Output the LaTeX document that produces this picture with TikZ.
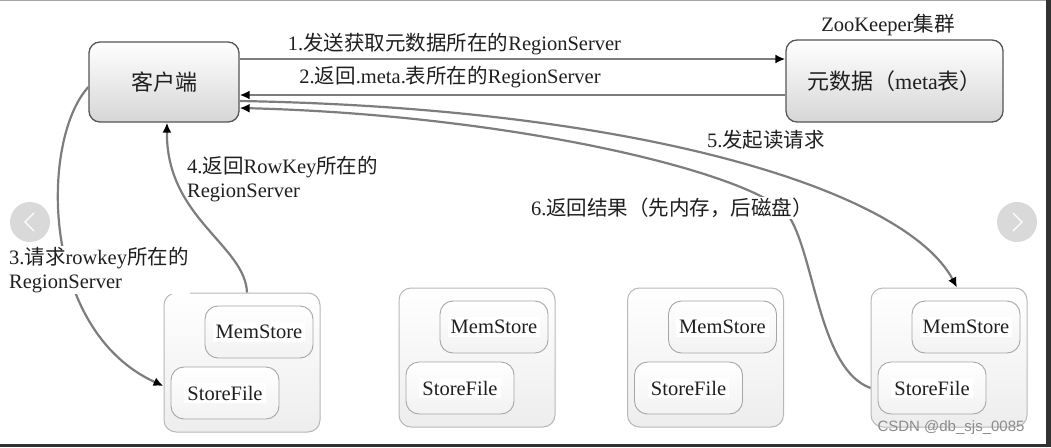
\documentclass[tikz,border=0pt]{standalone}
\usepackage{fontspec}
\setmainfont{Liberation Serif}
\newfontfamily\cjk{Noto Sans CJK SC}
\newfontfamily\wmfont{Liberation Sans}
\usetikzlibrary{arrows.meta}
\definecolor{linegray}{RGB}{125,125,125}
\definecolor{boxedge}{RGB}{85,85,85}
\definecolor{framegray}{RGB}{50,50,50}
\newcommand{\zh}[1]{{\cjk #1}}

\begin{document}
\begin{tikzpicture}[x=1pt, y=-1pt,
  every node/.style={font=\fontsize{20.5}{24}\selectfont, text=black!88},
  mainbox/.style={draw=boxedge, line width=1.3pt, rounded corners=11pt, top color=white, bottom color=black!16, minimum height=80pt, font=\fontsize{22}{26}\selectfont},
  rsbox/.style={draw=black!28, line width=1pt, rounded corners=12pt, top color=white, bottom color=black!7, minimum width=156pt, minimum height=139pt},
  inbox/.style={draw=black!35, line width=0.9pt, rounded corners=13pt, top color=white, bottom color=black!5, minimum width=108pt, minimum height=52pt},
  flow/.style={draw=linegray, line width=2.2pt, -{Latex[black,length=10pt,width=9pt]}},
  tag/.style={fill=white, inner sep=1pt}]
  \useasboundingbox (0,0) rectangle (1051,447);
  \fill[white] (0,0) rectangle (1051,447);
  \fill[framegray] (1046,0) rectangle (1051,447);
  \fill[framegray] (0,444) rectangle (1051,447);
  \draw[black!35] (0,0.5) -- (1046,0.5);

  \node[mainbox, minimum width=150pt] (client) at (164,82) {\zh{客户端}};
  \node[mainbox, minimum width=217pt, minimum height=82pt] (meta) at (894.5,81) {\zh{元数据（}meta\zh{表）}};
  \node (zk) at (888,25) {ZooKeeper\zh{集群}};

  % region servers
  \foreach \n/\x/\y in {1/242/362.5, 2/477/357.5, 3/705.5/357.5, 4/949/357.5} {
    \node[rsbox] (rs\n) at (\x,\y) {};
    \node[inbox] (mem\n) at (\x+17,\y-30.5) {\colorbox{white}{MemStore}};
    \node[inbox] (sf\n) at (\x-17,\y+30.5) {\colorbox{white}{StoreFile}};
  }

  \draw[flow] ([yshift=23pt]client.east) -- ([yshift=23pt]client.east -| meta.west);
  \draw[flow] ([yshift=-14pt]meta.west) -- ([yshift=-14pt]meta.west -| client.east);
  \draw[flow] ([yshift=-19pt]client.east) .. controls (640,108) and (905,190) .. ([xshift=8pt]rs4.north);
  \draw[flow] (sf4.west -| rs4.west) .. controls (820,370) and (815,260) .. (790,218)
    .. controls (765,176) and (520,115) .. ([yshift=-26pt]client.east);
  \draw[flow] ([yshift=-5pt]client.west) .. controls (40,140) and (40,330) .. ([yshift=7pt]sf1.west -| rs1.west);
  \draw[flow] ([xshift=5pt]rs1.north) .. controls (245,245) and (166,218) .. ([xshift=3pt]client.south);

  \node (l1) at (454.5,44) {1.\zh{发送获取元数据所在的}RegionServer};
  \node (l2) at (450,77) {2.\zh{返回}.meta.\zh{表所在的}RegionServer};
  \node (l5) at (766,140) {5.\zh{发起读请求}};
  \node[tag] (l6) at (672,208) {6.\zh{返回结果（先内存，后磁盘）}};
  \node[anchor=north west, align=left, inner sep=1pt] (l4) at (186,155) {4.\zh{返回}RowKey\zh{所在的}\\RegionServer};
  \node[tag, anchor=north west, align=left] (l3) at (8,246) {3.\zh{请求}rowkey\zh{所在的}\\RegionServer};

  \node[font=\wmfont\fontsize{15}{18}\selectfont, text=black!45] (mark) at (951,428) {CSDN @db\_sjs\_0085};

  % slide buttons
  \fill[black!15] (30,222) circle (20);
  \draw[white, line width=1.3pt] (34,213) -- (25,222) -- (34,231);
  \fill[black!15] (1017,222) circle (20);
  \draw[white, line width=1.3pt] (1013,213) -- (1022,222) -- (1013,231);
\end{tikzpicture}
\end{document}
